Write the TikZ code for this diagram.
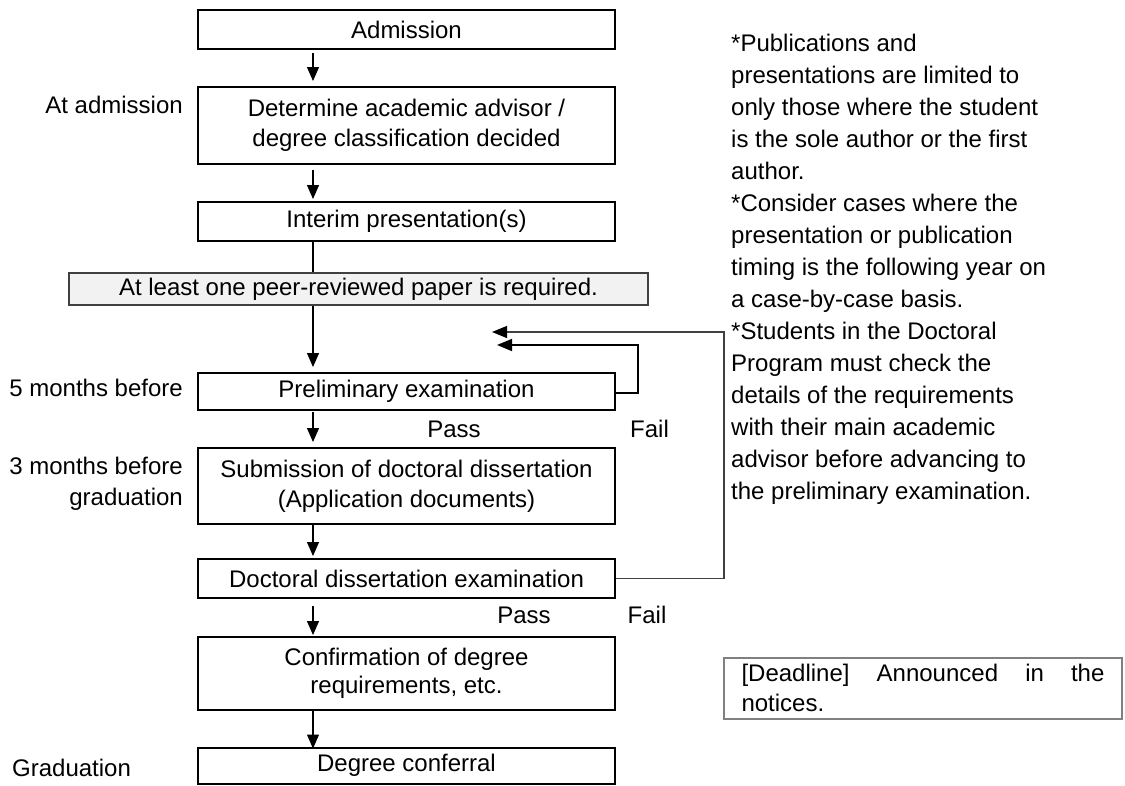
\documentclass[tikz,border=0pt]{standalone}
\usepackage{fontspec}
\setmainfont{Liberation Sans}
\usetikzlibrary{arrows.meta,calc}
\definecolor{boxfill}{HTML}{F2F2F2}
\definecolor{darkline}{HTML}{404040}
\definecolor{midgray}{HTML}{808080}
\begin{document}
\begin{tikzpicture}[x=1pt,y=-1pt,
  every node/.style={font=\fontsize{24}{30}\selectfont, inner sep=0pt},
  stage/.style={draw=black, line width=2pt, minimum width=417pt, align=center},
  reqbox/.style={draw=darkline, fill=boxfill, line width=1.5pt, minimum width=579pt, minimum height=32pt},
  arr/.style={line width=1.3pt, -{Triangle[width=12pt,length=14pt]}},
  link/.style={line width=1.3pt},
  loopin/.style={line width=1.5pt, -{Triangle[width=12pt,length=15pt]}},
  loopout/.style={line width=1.2pt, draw=darkline, -{Triangle[width=12pt,length=15pt,color=black]}},
]
\useasboundingbox (0,0) rectangle (1125,785);

% main stages
\node[stage, minimum height=39pt] (adm) at (406.5,29.5) {Admission};
\node[stage, minimum height=77pt] (det) at (406.5,125.5) {Determine academic advisor /\\degree classification decided};
\node[stage, minimum height=39pt] (intr) at (406.5,221.5) {Interim presentation(s)};
\node[reqbox] (req) at (358.5,289) {At least one peer-reviewed paper is required.};
\node[stage, minimum height=37pt] (pre) at (406.5,391.5) {Preliminary examination};
\node[stage, minimum height=76pt] (sub) at (406.5,486) {Submission of doctoral dissertation\\(Application documents)};
\node[stage, minimum height=39pt] (doc) at (406.5,578.5) {Doctoral dissertation examination};
\node[stage, minimum height=73pt, font=\fontsize{24}{28}\selectfont] (conf) at (406.5,673.5) {Confirmation of degree\\requirements, etc.};
\node[stage, minimum height=36pt] (deg) at (406.5,765.5) {Degree conferral};

% left timing labels
\node[anchor=east] (la1) at (183,105) {At admission};
\node[anchor=east] (la2) at (183,388) {5 months before};
\node[anchor=east, align=right, font=\fontsize{24}{31}\selectfont] (la3) at (183,483.5) {3 months before\\graduation};
\node[anchor=west] (la4) at (12,768) {Graduation};

% pass / fail labels
\node (pass1) at (454,429) {Pass};
\node (fail1) at (649.5,429) {Fail};
\node (pass2) at (524,615) {Pass};
\node (fail2) at (647,615) {Fail};

% vertical flow arrows
\coordinate (ax) at (313,0);
\draw[arr] ($(adm.south -| ax)+(0,3)$) -- ($(det.north -| ax)+(0,-5)$);
\draw[arr] ($(det.south -| ax)+(0,5)$) -- ($(intr.north -| ax)+(0,-2)$);
\draw[link] (intr.south -| ax) -- (req.north -| ax);
\draw[arr] (req.south -| ax) -- ($(pre.north -| ax)+(0,-5)$);
\draw[arr] ($(pre.south -| ax)+(0,1)$) -- ($(sub.north -| ax)+(0,-5)$);
\draw[arr] (sub.south -| ax) -- ($(doc.north -| ax)+(0,-2)$);
\draw[arr] ($(doc.south -| ax)+(0,7)$) -- ($(conf.north -| ax)+(0,-1)$);
\draw[arr] (conf.south -| ax) -- ($(deg.north -| ax)+(0,2)$);

% feedback loops (Fail)
\coordinate (l1) at (638,393);
\coordinate (t1) at (497,345);
\coordinate (l2) at (724,578.5);
\coordinate (t2) at (492,332);
\draw[loopin] (pre.east |- l1) -- (l1) -- (l1 |- t1) -- (t1);
\draw[loopout] (doc.east) -- (l2) -- (l2 |- t2) -- (t2);

% notes
\node[anchor=north west, align=left, font=\fontsize{24}{32}\selectfont] (notes) at (731,34)
{*Publications and\\presentations are limited to\\only those where the student\\is the sole author or the first\\author.\\*Consider cases where the\\presentation or publication\\timing is the following year on\\a case-by-case basis.\\*Students in the Doctoral\\Program must check the\\details of the requirements\\with their main academic\\advisor before advancing to\\the preliminary examination.};

% deadline box
\node[draw=midgray, line width=2pt, anchor=north west, align=left, inner xsep=17pt, inner ysep=6.5pt,
      minimum width=398pt, minimum height=60pt] (dl) at (723,657)
{\hbox to 363pt{[Deadline]\hfill Announced\hfill in\hfill the}\\notices.};
\end{tikzpicture}
\end{document}
